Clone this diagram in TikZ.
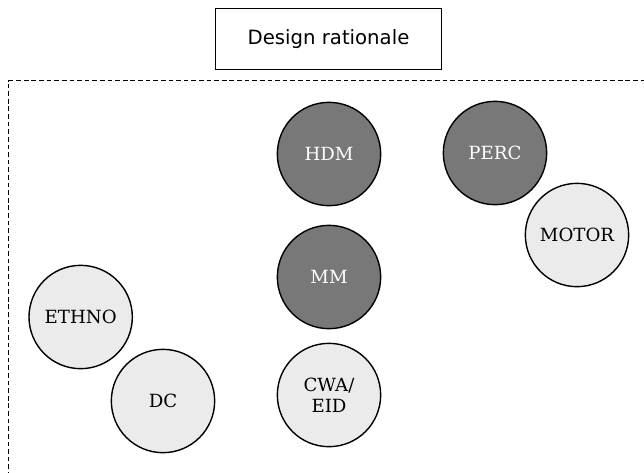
\documentclass[tikz,border=0pt]{standalone}
\usepackage{fontspec}
\newfontfamily\boxfont{DejaVu Sans}
\newfontfamily\circfont{DejaVu Serif}
\usepackage{tikz}
\usetikzlibrary{positioning}

\begin{document}
\begin{tikzpicture}[
    method/.style={draw, circle, line width=1.2pt, minimum size=3.1cm, inner sep=0pt, align=center, font=\circfont\fontsize{15.5}{18}\selectfont},
    core/.style={method, fill=black!53, text=white},
    aux/.style={method, fill=black!8},
    title/.style={draw, line width=0.8pt, minimum width=6.8cm, minimum height=1.85cm, font=\boxfont\fontsize{16.8}{19}\selectfont},
    frame/.style={line width=1pt, dash pattern=on 4pt off 2.5pt}
]
\useasboundingbox (0,0) rectangle (19.32,-14.16);

\node[title] (rationale) at (9.855,-1.17) {Design rationale};

\coordinate (fbl) at (0.26,-14.3);
\coordinate (ftl) at (0.26,-2.42);
\coordinate (ftr) at (19.5,-2.42);
\draw[frame] (fbl) -- (ftl) -- (ftr);

\node[core] (hdm) at (9.87,-4.62) {HDM};
\node[core] (perc) at (14.85,-4.59) {PERC};
\node[core] (mm) at (9.87,-8.31) {MM};
\node[aux] (motor) at (17.31,-7.05) {MOTOR};
\node[aux] (ethno) at (2.42,-9.51) {ETHNO};
\node[aux] (dc) at (4.89,-12.03) {DC};
\node[aux] (cwa) at (9.87,-11.85) {CWA/\\EID};
\end{tikzpicture}
\end{document}
